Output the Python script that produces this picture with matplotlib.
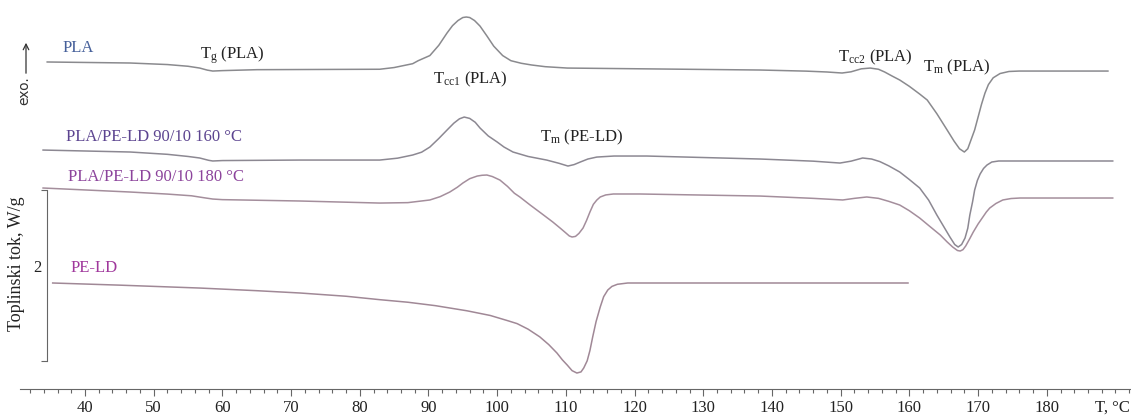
import numpy as np
import matplotlib
matplotlib.use('Agg')
from matplotlib import pyplot as plt
from matplotlib.ticker import FixedLocator

# DSC krivulje (T u °C, toplinski tok u W/g, krivulje pomaknute po y)
t_pla = [34.5, 46.6, 52.0, 55.0, 56.7, 57.8, 58.6, 60.0, 65.0, 82.9, 85.0, 87.7, 88.5, 90.2,
         91.5, 92.7, 93.5, 94.3, 95.0, 95.5, 96.0, 96.7, 97.5, 98.5, 99.5, 100.8, 102.0,
         103.5, 105.0, 107.0, 110.2, 138.3, 145.0, 148.0, 150.2, 151.5, 153.0, 154.3, 155.5,
         156.4, 157.5, 158.6, 160.0, 161.5, 162.6, 164.0, 165.5, 166.5, 167.3, 168.0, 168.5,
         169.0, 169.5, 170.0, 170.5, 171.0, 171.5, 172.2, 173.2, 174.5, 176.0, 188.9]
q_pla = [3.825, 3.813, 3.795, 3.775, 3.754, 3.730, 3.719, 3.724, 3.735, 3.740, 3.760, 3.805,
         3.840, 3.900, 4.020, 4.164, 4.250, 4.310, 4.345, 4.351, 4.345, 4.310, 4.245, 4.130,
         4.010, 3.900, 3.840, 3.810, 3.790, 3.770, 3.754, 3.731, 3.718, 3.708, 3.696, 3.710,
         3.745, 3.754, 3.740, 3.708, 3.660, 3.614, 3.540, 3.450, 3.380, 3.220, 3.029, 2.900,
         2.810, 2.772, 2.810, 2.920, 3.030, 3.180, 3.330, 3.460, 3.560, 3.640, 3.690, 3.714,
         3.719, 3.719]

t_160 = [33.9, 46.6, 52.0, 55.0, 56.7, 58.0, 58.6, 60.0, 71.3, 82.9, 85.5, 87.7, 89.0, 90.2,
         91.5, 92.7, 93.7, 94.5, 95.2, 96.0, 96.8, 97.5, 98.7, 100.0, 101.0, 102.3, 104.5,
         107.2, 109.0, 110.3, 111.2, 112.1, 113.2, 114.5, 117.0, 121.8, 138.3, 146.0, 149.9,
         151.5, 153.2, 154.5, 155.7, 157.0, 158.6, 160.0, 161.5, 162.8, 164.0, 165.0, 165.9,
         166.6, 167.1, 167.6, 168.1, 168.5, 168.8, 169.2, 169.5, 169.9, 170.3, 170.8, 171.3,
         172.0, 173.0, 189.6]
q_160 = [2.795, 2.772, 2.745, 2.720, 2.702, 2.675, 2.667, 2.672, 2.678, 2.678, 2.700, 2.737,
         2.770, 2.830, 2.930, 3.029, 3.110, 3.160, 3.181, 3.165, 3.120, 3.053, 2.960, 2.889,
         2.830, 2.772, 2.720, 2.678, 2.640, 2.608, 2.625, 2.655, 2.690, 2.713, 2.725, 2.725,
         2.690, 2.665, 2.643, 2.665, 2.702, 2.690, 2.660, 2.610, 2.538, 2.450, 2.351, 2.210,
         2.035, 1.900, 1.778, 1.690, 1.661, 1.690, 1.766, 1.880, 2.035, 2.190, 2.327, 2.440,
         2.515, 2.580, 2.620, 2.655, 2.667, 2.667]

t_180 = [33.9, 46.6, 52.0, 55.5, 57.5, 58.6, 60.0, 71.3, 82.9, 87.0, 90.2, 91.7, 93.1, 94.2,
         95.0, 96.0, 97.1, 97.8, 98.5, 99.3, 100.4, 101.5, 102.5, 103.3, 104.8, 106.5, 108.1,
         109.2, 110.0, 110.5, 110.9, 111.4, 111.9, 112.5, 113.0, 113.5, 114.0, 114.5, 115.0,
         115.8, 116.9, 120.8, 138.3, 146.0, 150.3, 152.0, 153.8, 155.5, 157.0, 158.6, 160.0,
         161.5, 163.0, 164.5, 165.5, 166.3, 167.0, 167.4, 167.8, 168.2, 168.8, 169.3, 170.0,
         170.6, 171.2, 171.7, 172.6, 173.6, 174.8, 176.1, 189.6]
q_180 = [2.351, 2.304, 2.280, 2.260, 2.235, 2.222, 2.215, 2.199, 2.175, 2.180, 2.211, 2.250,
         2.304, 2.360, 2.409, 2.460, 2.491, 2.500, 2.503, 2.485, 2.444, 2.370, 2.290, 2.246,
         2.152, 2.050, 1.953, 1.880, 1.825, 1.790, 1.778, 1.785, 1.820, 1.883, 1.970, 2.070,
         2.160, 2.210, 2.246, 2.270, 2.281, 2.281, 2.257, 2.230, 2.211, 2.230, 2.246, 2.230,
         2.195, 2.152, 2.085, 2.000, 1.900, 1.801, 1.720, 1.661, 1.620, 1.614, 1.630, 1.673,
         1.760, 1.836, 1.930, 2.000, 2.070, 2.117, 2.170, 2.211, 2.228, 2.234, 2.234]

t_pe = [35.3, 45.0, 56.7, 65.0, 71.3, 78.0, 82.9, 87.0, 91.0, 95.6, 99.0, 101.5, 102.9, 104.5,
        106.2, 107.5, 108.7, 109.5, 110.2, 110.9, 111.6, 112.2, 112.6, 113.1, 113.5, 113.9,
        114.4, 115.0, 115.5, 116.1, 116.7, 117.5, 119.0, 159.8]
q_pe = [1.240, 1.215, 1.181, 1.150, 1.123, 1.085, 1.045, 1.015, 0.975, 0.915, 0.860, 0.800,
        0.765, 0.700, 0.610, 0.520, 0.421, 0.340, 0.280, 0.215, 0.187, 0.200, 0.246, 0.330,
        0.450, 0.608, 0.790, 0.959, 1.080, 1.158, 1.200, 1.225, 1.240, 1.240]

major_ticks = list(range(40, 190, 10))
minor_ticks = list(range(32, 193, 2))

W, H = 1131, 418


def px(x, y):
    # piksel -> udio figure
    return x / W, 1 - y / H


plt.rcParams['font.family'] = ['Liberation Serif', 'DejaVu Serif']
plt.rcParams['mathtext.fontset'] = 'custom'
plt.rcParams['mathtext.rm'] = 'Liberation Serif'
plt.rcParams['mathtext.it'] = 'Liberation Serif'

fig = plt.figure(figsize=(W / 100, H / 100), dpi=100)
ax = fig.add_axes([0, 0, 1, 1])
ax.set_xlim(27.63, 192.26)
ax.set_ylim(-0.339, 4.550)

lw = 1.1
ax.plot(t_pla, q_pla, color='#8a8a8e', lw=lw)
ax.plot(t_160, q_160, color='#8c8892', lw=lw)
ax.plot(t_180, q_180, color='#a48e9c', lw=lw)
ax.plot(t_pe, q_pe, color='#a08896', lw=lw)

# os x
for s in ['top', 'right']:
    ax.spines[s].set_visible(False)
ax.spines['bottom'].set_position(('data', 0))
ax.spines['bottom'].set_bounds(30.5, 192.3)
ax.spines['bottom'].set_color('#666666')
ax.xaxis.set_major_locator(FixedLocator(major_ticks))
ax.xaxis.set_minor_locator(FixedLocator(minor_ticks))
ax.tick_params(axis='x', which='major', length=5, width=0.8, color='#666666',
               labelsize=12, pad=3, labelcolor='#222222')
ax.tick_params(axis='x', which='minor', length=3, width=0.8, color='#666666')

# skala toplinskog toka (2 W/g)
ax.spines['left'].set_position(('data', 34.47))
ax.spines['left'].set_bounds(0.327, 2.327)
ax.spines['left'].set_color('#666666')
ax.set_yticks([0.327, 2.327])
ax.set_yticklabels(['', ''])
ax.tick_params(axis='y', length=4, width=0.8, color='#666666')

fig.text(*px(37, 268), '2', fontsize=12, ha='center', va='center', color='#222222')
fig.text(*px(17, 264), 'Toplinski tok, W/g', fontsize=13, rotation=90,
         ha='center', va='center', color='#222222')
fig.text(*px(1112, 408), 'T, °C', fontsize=12, ha='center', va='center', color='#222222')

# exo. strelica
ax.annotate('', xy=px(26, 40), xycoords='figure fraction',
            xytext=px(26, 76), textcoords='figure fraction',
            arrowprops=dict(arrowstyle='->', color='#333333', lw=0.9))
fig.text(*px(24, 91), 'exo.', fontsize=10, rotation=90, ha='center', va='center',
         family=['DejaVu Sans'], color='#333333')

# nazivi krivulja
fig.text(*px(63, 48), 'PLA', fontsize=12, color='#46609a', va='center')
fig.text(*px(66, 137), 'PLA/PE-LD 90/10 160 °C', fontsize=12, color='#5c4490', va='center')
fig.text(*px(68, 177), 'PLA/PE-LD 90/10 180 °C', fontsize=12, color='#8c449c', va='center')
fig.text(*px(71, 268), 'PE-LD', fontsize=12, color='#a0389c', va='center')

# oznake prijelaza
fs = 12
fig.text(*px(200, 55), r'T$_\mathregular{g}$ (PLA)', fontsize=fs, va='center', color='#222222')
fig.text(*px(433, 79), r'T$_\mathregular{cc1}$ (PLA)', fontsize=fs, va='center', color='#222222')
fig.text(*px(540, 137), r'T$_\mathregular{m}$ (PE-LD)', fontsize=fs, va='center', color='#222222')
fig.text(*px(838, 57), r'T$_\mathregular{cc2}$ (PLA)', fontsize=fs, va='center', color='#222222')
fig.text(*px(923, 67), r'T$_\mathregular{m}$ (PLA)', fontsize=fs, va='center', color='#222222')

fig.savefig('out.png', dpi=100)
